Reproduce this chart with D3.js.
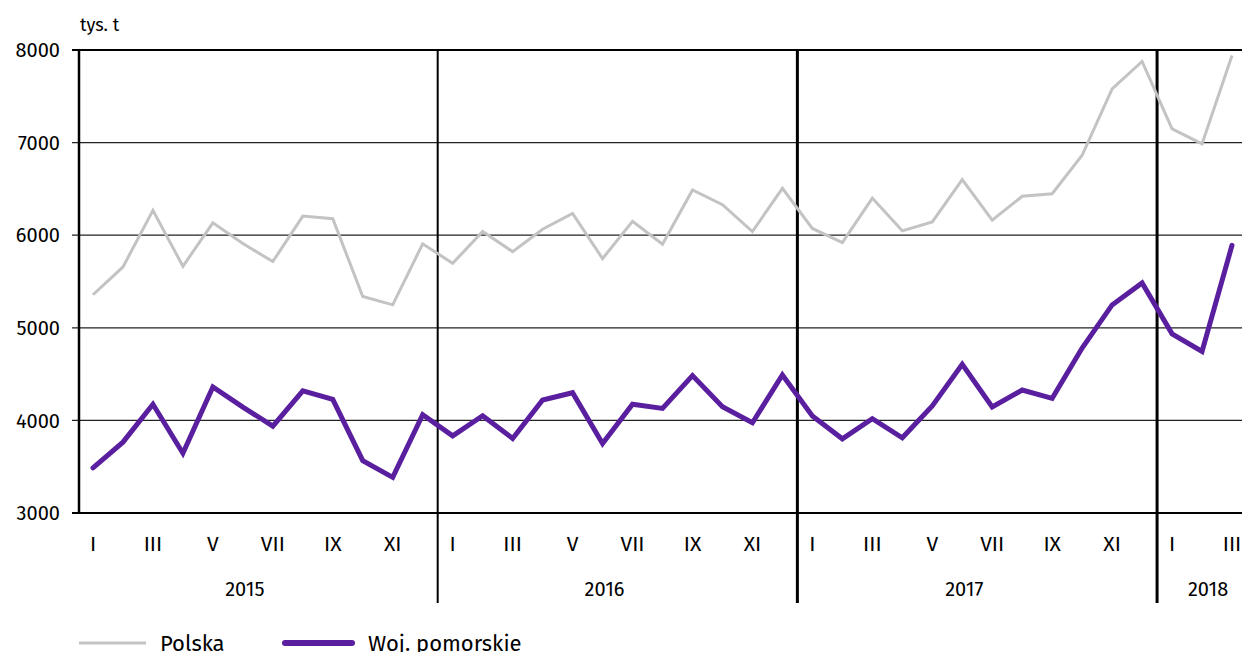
<!DOCTYPE html>
<html>
<head>
<meta charset="utf-8">
<title>Polska vs Woj. pomorskie</title>
<script src="https://d3js.org/d3.v7.min.js"></script>
<style>
body, html { margin: 0; padding: 0; background: #fff; }
svg { display: block; font-family: "Fira Sans", Roboto, "Open Sans", sans-serif; }
</style>
</head>
<body>
<script>
// months Jan 2015 .. Mar 2018
var years = [2015, 2016, 2017, 2018];
var monthsPerYear = [12, 12, 12, 3];
var romans = ["I","II","III","IV","V","VI","VII","VIII","IX","X","XI","XII"];

var polska = [
  5357, 5657, 6268, 5664, 6134, 5910, 5715, 6206, 6178, 5338, 5248, 5907,
  5696, 6040, 5823, 6065, 6235, 5747, 6149, 5902, 6488, 6329, 6040, 6506,
  6073, 5921, 6401, 6047, 6144, 6600, 6163, 6420, 6448, 6863, 7580, 7876,
  7149, 6986, 7940
];
var pomorskie = [
  3487, 3765, 4174, 3645, 4361, 4144, 3938, 4318, 4228, 3566, 3385, 4062,
  3833, 4050, 3805, 4220, 4299, 3750, 4174, 4130, 4484, 4148, 3974, 4491,
  4047, 3801, 4018, 3812, 4157, 4606, 4146, 4328, 4238, 4781, 5247, 5484,
  4935, 4744, 5891
];
var yTicks = [3000, 4000, 5000, 6000, 7000, 8000];

var width = 1242, height = 652;
var plotLeft = 78, plotRight = 1247, plotTop = 50, plotBottom = 513;

// build month list
var months = [];
years.forEach(function(yr, yi) {
  for (var m = 0; m < monthsPerYear[yi]; m++) months.push({ year: yr, m: m });
});

var svg = d3.select("body").append("svg")
  .attr("width", width)
  .attr("height", height);

var x = d3.scaleBand()
  .domain(d3.range(months.length))
  .range([plotLeft, plotRight]);

var y = d3.scaleLinear()
  .domain([3000, 8000])
  .range([plotBottom, plotTop]);

// unit label
svg.append("text")
  .attr("x", 80).attr("y", 31)
  .attr("font-size", 18)
  .attr("fill", "#000")
  .text("tys. t");

// horizontal grid + y labels
var yAxis = svg.append("g");
yTicks.forEach(function(t) {
  var thick = (t === 3000 || t === 8000);
  yAxis.append("line")
    .attr("x1", 72).attr("x2", width)
    .attr("y1", y(t)).attr("y2", y(t))
    .attr("stroke", thick ? "#000" : "#222")
    .attr("stroke-width", thick ? 2 : 1.2);
  yAxis.append("text")
    .attr("x", 60).attr("y", y(t))
    .attr("dy", "0.36em")
    .attr("text-anchor", "end")
    .attr("font-size", 20)
    .text(t);
});

// left axis
svg.append("line")
  .attr("x1", 79).attr("x2", 79)
  .attr("y1", plotTop - 1).attr("y2", plotBottom + 1)
  .attr("stroke", "#000").attr("stroke-width", 2.5);

// year separators and labels
var start = 0;
years.forEach(function(yr, yi) {
  var n = monthsPerYear[yi];
  if (yi > 0) {
    var sx = x(start);
    svg.append("line")
      .attr("x1", sx).attr("x2", sx)
      .attr("y1", plotTop).attr("y2", 603)
      .attr("stroke", "#000")
      .attr("stroke-width", yi === 1 ? 2 : 3);
  }
  var mid = start + Math.floor((n - 1) / 2);
  svg.append("text")
    .attr("x", x(mid) + x.bandwidth() / 2 + (n < 12 ? 6 : 2))
    .attr("y", 596)
    .attr("text-anchor", "middle")
    .attr("font-size", 20)
    .text(yr);
  start += n;
});

// month labels
months.forEach(function(d, i) {
  if (d.m % 2 !== 0) return;
  svg.append("text")
    .attr("x", x(i) + x.bandwidth() / 2)
    .attr("y", 551)
    .attr("text-anchor", "middle")
    .attr("font-size", 21)
    .text(romans[d.m]);
});

var line = d3.line()
  .x(function(d, i) { return x(i) + x.bandwidth() / 2; })
  .y(function(d) { return y(d); });

svg.append("path")
  .datum(polska)
  .attr("fill", "none")
  .attr("stroke", "#c3c3c3")
  .attr("stroke-width", 3)
  .attr("d", line);

svg.append("path")
  .datum(pomorskie)
  .attr("fill", "none")
  .attr("stroke", "#5a1f9f")
  .attr("stroke-width", 5)
  .attr("stroke-linecap", "round")
  .attr("d", line);

// legend (bottom edge clips the text, as in the source)
var legend = svg.append("g");
legend.append("line")
  .attr("x1", 79).attr("x2", 146)
  .attr("y1", 643).attr("y2", 643)
  .attr("stroke", "#c3c3c3").attr("stroke-width", 3);
legend.append("text")
  .attr("x", 160).attr("y", 651)
  .attr("font-size", 22)
  .text("Polska");
legend.append("line")
  .attr("x1", 285).attr("x2", 352)
  .attr("y1", 643).attr("y2", 643)
  .attr("stroke", "#5a1f9f").attr("stroke-width", 6)
  .attr("stroke-linecap", "round");
legend.append("text")
  .attr("x", 368).attr("y", 651)
  .attr("font-size", 22)
  .text("Woj. pomorskie");
</script>
</body>
</html>
